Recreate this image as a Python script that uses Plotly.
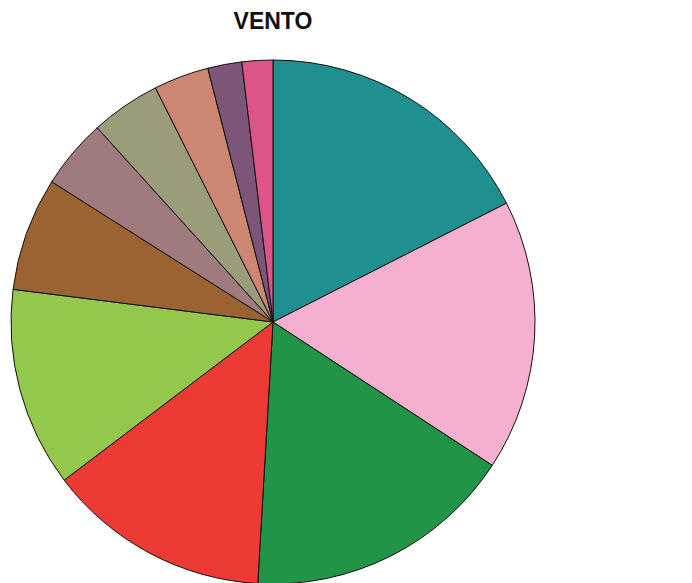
import plotly.graph_objects as go

categories = ["N", "NE", "E", "SE", "S", "SO", "O", "NO", "Calma", "Variável", "Outros"]
values = [17.5, 16.7, 16.7, 13.75, 12.3, 7.0, 4.3, 4.3, 3.4, 2.1, 1.9]
colors = ["#1f8f8f", "#f5b0d0", "#229447", "#ee3a35", "#93c84c", "#9a6331",
          "#a07b7e", "#9a9c7a", "#cd8770", "#7c5579", "#dc5488"]

W, H = 692, 583
OFF = 8  # page body margin offset
fig = go.Figure(go.Pie(
    labels=categories,
    values=values,
    sort=False,
    direction="clockwise",
    rotation=0,
    marker=dict(colors=colors, line=dict(color="#111111", width=1)),
    textinfo="none",
    hoverinfo="label+percent",
    domain=dict(x=[(11 - OFF) / W, (535 - OFF) / W],
                y=[(H - (584 - OFF)) / H, 1 - (60 - OFF) / H]),
))
fig.update_layout(
    width=W, height=H,
    margin=dict(l=0, r=0, t=0, b=0),
    showlegend=False,
    paper_bgcolor="white",
    plot_bgcolor="white",
    title=dict(text="<b>VENTO</b>", x=(273 - OFF) / W, xanchor="center", xref="paper",
               y=1 - (21 - OFF) / H, yanchor="middle", yref="container",
               font=dict(family="Liberation Sans", size=23, color="#111111")),
)
fig.write_html("out.html")
